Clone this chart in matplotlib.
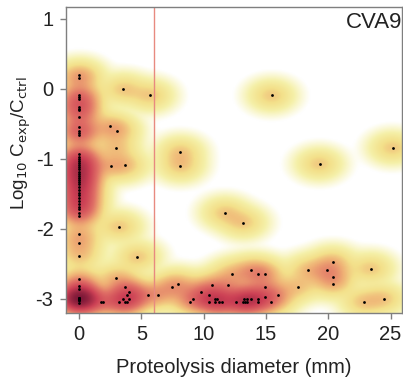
import numpy as np
import matplotlib
matplotlib.use("Agg")
import matplotlib.pyplot as plt
from matplotlib.colors import LinearSegmentedColormap

plt.rcParams["font.family"] = ["Liberation Sans", "DejaVu Sans"]
plt.rcParams["axes.unicode_minus"] = False

# proteolysis diameter (mm) and log10 Cexp/Cctrl
col0_y = [0.2, 0.16, -0.09, -0.11, -0.14, -0.26, -0.28, -0.3, -0.4, -0.54,
          -0.6, -0.63, -0.66, -0.93, -0.97, -1.0, -1.03, -1.06, -1.09, -1.12,
          -1.15, -1.18, -1.21, -1.24, -1.27, -1.3, -1.33, -1.36, -1.4, -1.44,
          -1.48, -1.52, -1.56, -1.6, -1.64, -1.68, -1.72, -1.77, -1.82,
          -2.07, -2.2, -2.38, -2.72, -2.82, -2.86, -2.99, -3.02, -3.06,
          -3.0, -3.0, -3.0, -3.0, -3.0, -3.0, -2.99, -2.99, -3.02, -3.02]

other_x = [3.56, 5.7, 2.49, 3.08, 2.94, 8.13, 15.46, 25.2, 19.3,
           2.54, 3.72, 8.13, 11.7, 3.21, 4.68, 2.94, 3.69, 4.04,
           3.88, 3.53, 4.01, 3.72, 3.88, 3.23, 1.74, 1.9, 5.56, 6.37, 7.44, 7.95,
           8.93, 9.17, 9.77, 10.43, 10.7, 10.46, 10.89, 10.92, 11.08, 11.26, 11.45, 11.93,
           13.19, 12.3, 13.8, 14.34, 14.95, 14.95, 14.95, 15.95, 15.44, 14.34, 14.34,
           13.8, 13.27, 13.46, 12.58, 13.14, 13.32, 13.5,
           17.58, 18.35, 19.93, 20.41, 20.41, 20.41, 23.46, 22.85, 24.48]
other_y = [0.0, -0.09, -0.53, -0.6, -0.84, -0.9, -0.09, -0.84, -1.07,
           -1.1, -1.09, -1.1, -1.77, -1.97, -2.4, -2.7, -2.83, -2.9,
           -2.95, -3.0, -3.0, -3.05, -3.05, -3.05, -3.05, -3.05, -2.95, -2.95, -2.83, -2.79,
           -3.05, -3.0, -2.9, -2.95, -2.8, -3.05, -3.0, -3.05, -3.0, -3.05, -3.05, -2.8,
           -1.91, -2.64, -2.59, -2.64, -2.64, -2.83, -2.97, -2.95, -3.05, -3.0, -3.05,
           -3.0, -3.0, -3.0, -3.05, -3.05, -3.05, -3.05,
           -2.83, -2.59, -2.59, -2.47, -2.68, -2.79, -2.57, -3.05, -3.0]

diam = np.array([0.0] * len(col0_y) + other_x)
logratio = np.array(col0_y + other_y)

cutoff = 6
xlim = (-1.05, 25.92)
ylim = (-3.2, 1.17)

# smoothed density, like smoothScatter
gx = np.linspace(xlim[0], xlim[1], 300)
gy = np.linspace(ylim[0], ylim[1], 300)
X, Y = np.meshgrid(gx, gy)
sx, sy = 0.95, 0.115
dens = np.zeros_like(X)
for px, py in zip(diam, logratio):
    dens += np.exp(-((X - px) ** 2) / (2 * sx ** 2) - ((Y - py) ** 2) / (2 * sy ** 2))
dens = (dens / dens.max()) ** 0.25

cmap = LinearSegmentedColormap.from_list("ramp", [
    (0.0, "#ffffff"), (0.13, "#ffffff"), (0.33, "#f5f0a8"),
    (0.47, "#f3e08a"), (0.58, "#efb075"), (0.7, "#e07066"),
    (0.83, "#cc4055"), (1.0, "#7d1838")])

fig = plt.figure(figsize=(4.03, 3.87), dpi=100)
ax = fig.add_axes([66 / 403, 74 / 387, 336 / 403, 306 / 387])

ax.imshow(dens, extent=(xlim[0], xlim[1], ylim[0], ylim[1]), origin="lower",
          cmap=cmap, vmin=0, vmax=1, aspect="auto", interpolation="bilinear")
ax.scatter(diam, logratio, s=4, color="black", zorder=3, linewidths=0)
ax.axvline(cutoff, color="#e88a80", linewidth=1, zorder=2)

ax.set_xlim(xlim)
ax.set_ylim(ylim)
ax.set_xticks([0, 5, 10, 15, 20, 25])
ax.set_yticks([-3, -2, -1, 0, 1])

for s in ax.spines.values():
    s.set_color("#7f7f7f")
    s.set_linewidth(1)
ax.tick_params(colors="#7f7f7f", labelcolor="#222222", labelsize=14.5,
               length=4, width=1, direction="out", pad=5)

ax.set_xlabel("Proteolysis diameter (mm)", fontsize=14.5, color="#222222", labelpad=10)
ax.set_ylabel(r"Log$_{10}$ C$_{\rm exp}$/C$_{\rm ctrl}$", fontsize=13.5,
              color="#222222")
ax.yaxis.set_label_coords(-0.098, 0.556)
ax.text(1.0, 0.984, "CVA9", transform=ax.transAxes, ha="right", va="top",
        fontsize=16, color="#222222")

fig.savefig("out.png", dpi=100)
